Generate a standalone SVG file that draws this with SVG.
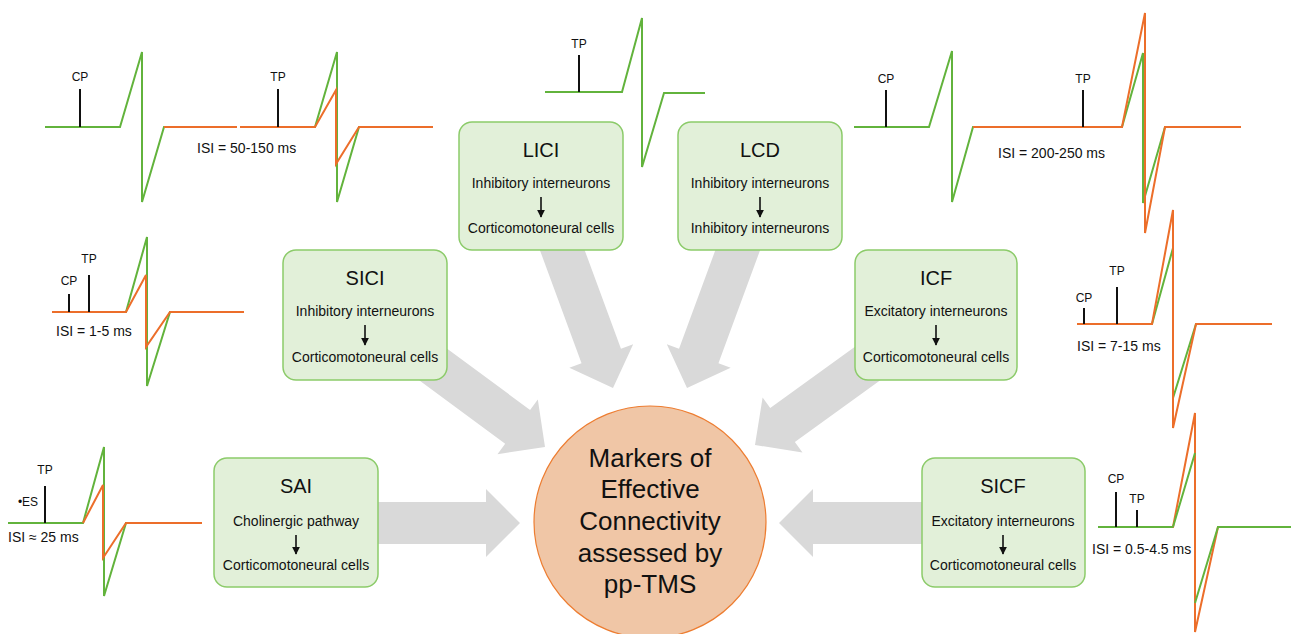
<svg xmlns="http://www.w3.org/2000/svg" width="1291" height="634" viewBox="0 0 1291 634">
<defs>
<style>
.bg{fill:#ffffff}
.box{fill:#E2F0D9;stroke:#8CCB6A;stroke-width:1.5}
.title{font-family:"Liberation Sans",Arial,sans-serif;font-size:20px;fill:#111;text-anchor:middle}
.sub{font-family:"Liberation Sans",Arial,sans-serif;font-size:14px;fill:#111;text-anchor:middle}
.lbl{font-family:"Liberation Sans",Arial,sans-serif;font-size:12px;fill:#111;text-anchor:middle}
.isi{font-family:"Liberation Sans",Arial,sans-serif;font-size:14px;fill:#111}
.big{font-family:"Liberation Sans",Arial,sans-serif;font-size:26px;fill:#111;text-anchor:middle}
.g{fill:none;stroke:#62B33C;stroke-width:2;stroke-linejoin:miter}
.o{fill:none;stroke:#EC6E2A;stroke-width:2;stroke-linejoin:miter}
.mk{stroke:#111;stroke-width:2}
.fat{fill:#D9D9D9}
.dn{stroke:#111;stroke-width:1.6}
</style>
<marker id="ah" viewBox="0 0 10 10" refX="9" refY="5" markerWidth="5" markerHeight="5" orient="auto" markerUnits="strokeWidth">
<path d="M0,0 L10,5 L0,10 z" fill="#111"/>
</marker>
<polygon id="fatArrow" points="0,0 -34,-34 -34,-20 -1000,-20 -1000,20 -34,20 -34,34"/>
</defs>
<rect class="bg" x="0" y="0" width="1291" height="634"/>

<g id="connectors">
<polygon class="fat" transform="translate(520,523) rotate(0)" points="0,0 -34,-34 -34,-21 -150,-21 -150,21 -34,21 -34,34"/>
<polygon class="fat" transform="translate(779,523) rotate(180)" points="0,0 -34,-34 -34,-21 -150,-21 -150,21 -34,21 -34,34"/>
<polygon class="fat" transform="translate(545,447) rotate(36.4)" points="0,0 -34,-34 -34,-21 -180,-21 -180,21 -34,21 -34,34"/>
<polygon class="fat" transform="translate(755,445) rotate(144.1)" points="0,0 -34,-34 -34,-21 -180,-21 -180,21 -34,21 -34,34"/>
<polygon class="fat" transform="translate(613,388) rotate(69.8)" points="0,0 -34,-34 -34,-21 -170,-21 -170,21 -34,21 -34,34"/>
<polygon class="fat" transform="translate(687,388) rotate(110.2)" points="0,0 -34,-34 -34,-21 -170,-21 -170,21 -34,21 -34,34"/>
</g>

<g id="node-LICI">
<rect class="box" x="459" y="122" width="164" height="128" rx="13"/>
<text class="title" x="541" y="157">LICI</text>
<text class="sub" x="541" y="188">Inhibitory interneurons</text>
<line class="dn" x1="541" y1="197" x2="541" y2="217" marker-end="url(#ah)"/>
<text class="sub" x="541" y="233">Corticomotoneural cells</text>
</g>
<g id="node-LCD">
<rect class="box" x="678" y="122" width="164" height="128" rx="13"/>
<text class="title" x="760" y="157">LCD</text>
<text class="sub" x="760" y="188">Inhibitory interneurons</text>
<line class="dn" x1="760" y1="197" x2="760" y2="217" marker-end="url(#ah)"/>
<text class="sub" x="760" y="233">Inhibitory interneurons</text>
</g>
<g id="node-SICI">
<rect class="box" x="283" y="250" width="164" height="130" rx="13"/>
<text class="title" x="365" y="285">SICI</text>
<text class="sub" x="365" y="316">Inhibitory interneurons</text>
<line class="dn" x1="365" y1="325" x2="365" y2="345" marker-end="url(#ah)"/>
<text class="sub" x="365" y="362">Corticomotoneural cells</text>
</g>
<g id="node-ICF">
<rect class="box" x="855" y="250" width="162" height="130" rx="13"/>
<text class="title" x="936" y="285">ICF</text>
<text class="sub" x="936" y="316">Excitatory interneurons</text>
<line class="dn" x1="936" y1="325" x2="936" y2="345" marker-end="url(#ah)"/>
<text class="sub" x="936" y="362">Corticomotoneural cells</text>
</g>
<g id="node-SAI">
<rect class="box" x="214" y="458" width="164" height="129" rx="13"/>
<text class="title" x="296" y="493">SAI</text>
<text class="sub" x="296" y="526">Cholinergic pathway</text>
<line class="dn" x1="296" y1="535" x2="296" y2="554" marker-end="url(#ah)"/>
<text class="sub" x="296" y="570">Corticomotoneural cells</text>
</g>
<g id="node-SICF">
<rect class="box" x="922" y="458" width="163" height="129" rx="13"/>
<text class="title" x="1003" y="493">SICF</text>
<text class="sub" x="1003" y="526">Excitatory interneurons</text>
<line class="dn" x1="1003" y1="535" x2="1003" y2="554" marker-end="url(#ah)"/>
<text class="sub" x="1003" y="570">Corticomotoneural cells</text>
</g>

<g id="node-center">
<circle cx="650" cy="522" r="116" fill="#F0C6A6" stroke="#ED7D31" stroke-width="1.2"/>
<text class="big" x="650" y="467">Markers of</text>
<text class="big" x="650" y="498">Effective</text>
<text class="big" x="650" y="530">Connectivity</text>
<text class="big" x="650" y="562">assessed by</text>
<text class="big" x="650" y="593">pp-TMS</text>
</g>

<g id="wave-LICI">
<path class="g" d="M45,127 H120 L142,52 V202 L164,127 H237 M240,127 H315 L337,52 V202 L359,127 H433"/>
<path class="o" d="M164,127 H237 M240,127 H315 L336,90 V164 L359,127 H433"/>
<line class="mk" x1="80" y1="89" x2="80" y2="127"/>
<line class="mk" x1="278" y1="89" x2="278" y2="127"/>
<text class="lbl" x="80" y="81">CP</text>
<text class="lbl" x="278" y="81">TP</text>
<text class="isi" x="197" y="153">ISI = 50-150 ms</text>
</g>

<g id="wave-SICI">
<path class="g" d="M52,312 H126 L147,237 V386 L170,312 H244"/>
<path class="o" d="M52,312 H126 L146,275 V347 L170,312 H244"/>
<line class="mk" x1="69" y1="294" x2="69" y2="312"/>
<line class="mk" x1="89" y1="275" x2="89" y2="312"/>
<text class="lbl" x="69" y="285">CP</text>
<text class="lbl" x="89" y="263">TP</text>
<text class="isi" x="56" y="336">ISI = 1-5 ms</text>
</g>

<g id="wave-SAI">
<path class="g" d="M8,523 H83 L104,447 V596 L126,523 H202"/>
<path class="o" d="M83,523 L103,485 V558 L126,523 H202"/>
<line class="mk" x1="45" y1="486" x2="45" y2="523"/>
<text class="lbl" x="45" y="474">TP</text>
<text class="lbl" x="28" y="506">•ES</text>
<text class="isi" x="8" y="542">ISI ≈ 25 ms</text>
</g>

<g id="wave-top">
<path class="g" d="M545,92 H622 L642,18 V167 L664,93 H705"/>
<line class="mk" x1="579" y1="55" x2="579" y2="92"/>
<text class="lbl" x="579" y="48">TP</text>
</g>

<g id="wave-LCD">
<path class="g" d="M854,127 H929 L952,51 V202 L973,127 H1122 L1143,53 V203 L1165,127 H1241"/>
<path class="o" d="M973,127 H1122 L1145,13 V233 L1165,127 H1241"/>
<line class="mk" x1="886" y1="90" x2="886" y2="127"/>
<line class="mk" x1="1083" y1="90" x2="1083" y2="127"/>
<text class="lbl" x="886" y="83">CP</text>
<text class="lbl" x="1083" y="83">TP</text>
<text class="isi" x="998" y="158">ISI = 200-250 ms</text>
</g>

<g id="wave-ICF">
<path class="g" d="M1077,324 H1152 L1173,248 V398 L1196,324 H1272"/>
<path class="o" d="M1077,324 H1152 L1173,210 V428 L1196,324 H1272"/>
<line class="mk" x1="1084" y1="308" x2="1084" y2="324"/>
<line class="mk" x1="1117" y1="287" x2="1117" y2="324"/>
<text class="lbl" x="1084" y="302">CP</text>
<text class="lbl" x="1117" y="275">TP</text>
<text class="isi" x="1077" y="351">ISI = 7-15 ms</text>
</g>

<g id="wave-SICF">
<path class="o" d="M1098,527 H1173 L1195,413 V632 L1218,527 H1291"/>
<path class="g" d="M1098,527 H1173 M1173,527 L1195,453 M1195,603 L1218,527 H1291"/>
<line class="mk" x1="1116" y1="492" x2="1116" y2="527"/>
<line class="mk" x1="1137" y1="510" x2="1137" y2="527"/>
<text class="lbl" x="1116" y="483">CP</text>
<text class="lbl" x="1137" y="503">TP</text>
<text class="isi" x="1092" y="554">ISI = 0.5-4.5 ms</text>
</g>
</svg>
